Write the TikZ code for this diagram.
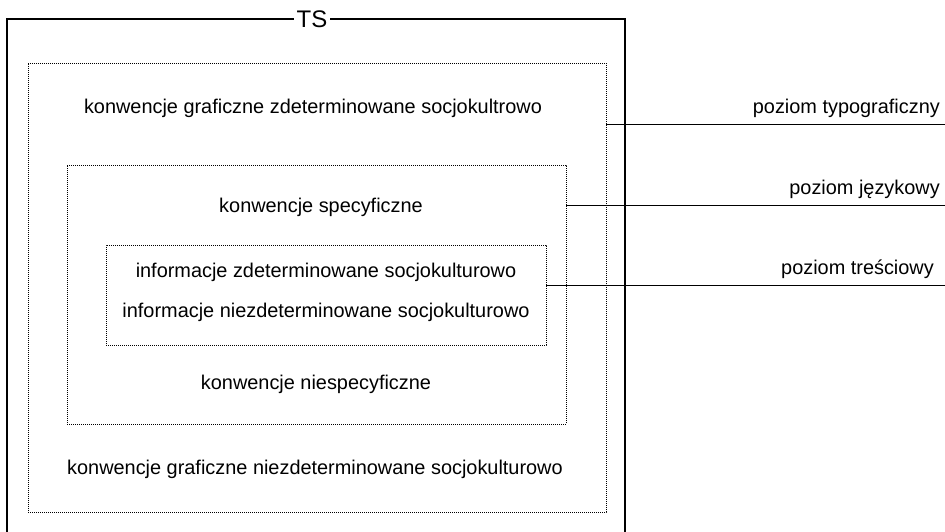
\documentclass[tikz,border=0pt]{standalone}
\usepackage{fontspec}
\setmainfont{Liberation Sans}
\begin{document}
\begin{tikzpicture}[x=1pt,y=-1pt,
  frame/.style={line width=1.1pt},
  layer/.style={draw, line width=0.9pt, dash pattern=on 0.9pt off 1.1pt, inner sep=0pt},
  lbl/.style={font=\fontsize{19.9}{22}\selectfont, inner sep=0pt},
  lvl/.style={line width=1pt}]
\useasboundingbox (0,0) rectangle (945,532);
% nested layers
\node[layer, minimum width=578, minimum height=449] (typo) at (317,287.5) {};
\node[layer, minimum width=499, minimum height=259] (lang) at (316.5,294.5) {};
\node[layer, minimum width=440, minimum height=100] (cont) at (326,295) {};
% outer frame with its title
\node[lbl, font=\fontsize{24}{26}\selectfont, fill=white, inner xsep=2.5pt] (ts) at (312,19) {TS};
\draw[frame] (ts.west) -- (7,19) -- (7,545);
\draw[frame] (ts.east) -- (625,19) -- (625,545);
% texts inside the layers
\node[lbl] (t1) at (313,108) {konwencje graficzne zdeterminowane socjokultrowo};
\node[lbl] (t2) at (321,207) {konwencje specyficzne};
\node[lbl] (t3) at (326,272) {informacje zdeterminowane socjokulturowo};
\node[lbl] (t4) at (326,312) {informacje niezdeterminowane socjokulturowo};
\node[lbl] (t5) at (316,384) {konwencje niespecyficzne};
\node[lbl] (t6) at (315,469) {konwencje graficzne niezdeterminowane socjokulturowo};
% level markers
\coordinate (e1) at (945,125);
\coordinate (e2) at (945,205);
\coordinate (e3) at (945,285);
\draw[lvl] (typo.east |- e1) -- (e1);
\draw[lvl] (lang.east |- e2) -- (e2);
\draw[lvl] (cont.east |- e3) -- (e3);
\node[lbl, anchor=base east] (l1) at (940,114) {poziom typograficzny};
\node[lbl, anchor=base east] (l2) at (940,194) {poziom językowy};
\node[lbl, anchor=base east] (l3) at (934,274) {poziom treściowy};
\end{tikzpicture}
\end{document}
